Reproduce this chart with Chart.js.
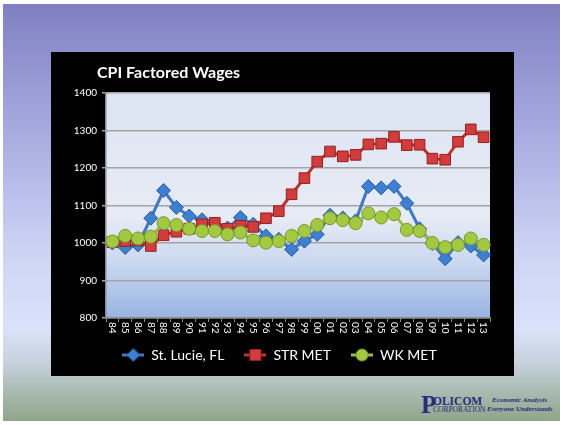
<!DOCTYPE html>
<html>
<head>
<meta charset="utf-8">
<script src="https://cdn.jsdelivr.net/npm/chart.js@4"></script>
<style>
  body { margin: 0; background: #fff; width: 563px; height: 425px; overflow: hidden; position: relative; }
  .slide {
    position: absolute; left: 3px; top: 4px; width: 557px; height: 417px;
    background: linear-gradient(to bottom, #8080c2 0%, #a6aadf 30%, #cdd5f5 60%, #d8e2f9 78%, #c6d2dc 86%, #a9bbb0 93%, #8fa58a 100%);
  }
  .box { position: absolute; left: 51px; top: 52px; width: 463px; height: 324px; background: #000; }
  .box canvas { display: block; }
  .logo { position: absolute; left: 421px; top: 392px; font-family: "Liberation Serif", serif; color: #2b2b7c; }
  .logo .p { position: absolute; left: 0; top: 0; font-size: 25px; font-weight: bold; line-height: 25px; }
  .logo .l1 { position: absolute; left: 12px; top: 3px; font-size: 11.5px; font-weight: bold; line-height: 12px; white-space: nowrap; }
  .logo .l2 { position: absolute; left: 12px; top: 13px; font-size: 7.5px; line-height: 9px; white-space: nowrap; }
  .logo .t1, .logo .t2 { position: absolute; font-style: italic; font-weight: bold; font-size: 7px; white-space: nowrap; }
  .logo .t1 { left: 71px; top: 4px; }
  .logo .t2 { left: 66px; top: 13px; }
</style>
</head>
<body>
<div class="slide"></div>
<div class="box"><canvas id="chart" width="463" height="324"></canvas></div>
<div class="logo">
  <span class="p">P</span><span class="l1">OLICOM</span><span class="l2">CORPORATION</span>
  <span class="t1">Economic Analysis</span><span class="t2">Everyone Understands</span>
</div>
<script>
const years = ['84','85','86','87','88','89','90','91','92','93','94','95','96','97','98','99',
               '00','01','02','03','04','05','06','07','08','09','10','11','12','13'];
const stLucie = [1000, 988, 995, 1066, 1140, 1095, 1072, 1062, 1050, 1040, 1068, 1050, 1019, 1010, 983,
                 1005, 1023, 1074, 1067, 1059, 1151, 1147, 1151, 1106, 1038, 999, 958, 1001, 992, 968];
const strMet = [1002, 1005, 1007, 992, 1021, 1030, 1038, 1050, 1054, 1038, 1046, 1043, 1066, 1085, 1130,
                1173, 1217, 1244, 1231, 1235, 1263, 1265, 1283, 1261, 1262, 1225, 1222, 1270, 1303, 1282];
const wkMet = [1004, 1019, 1012, 1017, 1053, 1048, 1038, 1032, 1032, 1023, 1028, 1007, 1001, 1005, 1019,
               1032, 1048, 1066, 1061, 1053, 1079, 1068, 1077, 1035, 1032, 1000, 989, 995, 1012, 995];
const yTicks = [800, 900, 1000, 1100, 1200, 1300, 1400];

// little line+marker pictures for the legend, like Excel does
function legendIcon(line, fill, edge, shape) {
  const c = document.createElement('canvas');
  c.width = 22; c.height = 14;
  const g = c.getContext('2d');
  g.strokeStyle = line; g.lineWidth = 3;
  g.beginPath(); g.moveTo(0, 7); g.lineTo(22, 7); g.stroke();
  g.fillStyle = fill; g.strokeStyle = edge; g.lineWidth = 1;
  g.beginPath();
  if (shape == 'diamond') {
    g.moveTo(11, 0.5); g.lineTo(17.5, 7); g.lineTo(11, 13.5); g.lineTo(4.5, 7); g.closePath();
  } else if (shape == 'square') {
    g.rect(5.5, 1.5, 11, 11);
  } else {
    g.arc(11, 7, 6, 0, Math.PI * 2);
  }
  g.fill(); g.stroke();
  return c;
}
const iconBlue = legendIcon('#3f78c6', '#3d7fd0', '#2a5ea6', 'diamond');
const iconRed = legendIcon('#c0332f', '#d23c3a', '#962020', 'square');
const iconGreen = legendIcon('#9bbb46', '#a2c940', '#769a2a', 'circle');

const plotBg = {
  id: 'plotBg',
  beforeDraw(chart) {
    const { ctx, chartArea: a } = chart;
    const grad = ctx.createLinearGradient(0, a.top, 0, a.bottom);
    grad.addColorStop(0, '#dce4f2');
    grad.addColorStop(0.55, '#e7ebf5');
    grad.addColorStop(0.75, '#cbd8f0');
    grad.addColorStop(1, '#97b3e3');
    ctx.save();
    ctx.fillStyle = grad;
    ctx.fillRect(a.left, a.top, a.right - a.left, a.bottom - a.top);
    ctx.restore();
  }
};

const extraText = {
  id: 'extraText',
  afterDraw(chart) {
    const { ctx, scales: { x } } = chart;
    ctx.save();
    ctx.fillStyle = '#fff';
    ctx.font = 'bold 16px Lato';
    ctx.textBaseline = 'middle';
    ctx.fillText('CPI Factored Wages', 46, 21);
    // year labels read top to bottom
    ctx.font = '10px Lato';
    ctx.textAlign = 'left';
    years.forEach((lab, i) => {
      ctx.save();
      ctx.translate(x.getPixelForValue(i), x.top + 4);
      ctx.rotate(Math.PI / 2);
      ctx.fillText(lab, 0, 0);
      ctx.restore();
    });
    ctx.restore();
  }
};

new Chart('chart', {
  type: 'line',
  data: {
    labels: years,
    datasets: [{
      label: 'St. Lucie, FL',
      data: stLucie,
      borderColor: '#3f78c6',
      backgroundColor: '#3d7fd0',
      pointBorderColor: '#2a5ea6',
      pointStyle: 'rectRot',
      pointRadius: 7,
      borderWidth: 3,
      pointBorderWidth: 1,
      order: 3
    }, {
      label: 'STR MET',
      data: strMet,
      borderColor: '#c0332f',
      backgroundColor: '#d23c3a',
      pointBorderColor: '#962020',
      pointStyle: 'rect',
      pointRadius: 7.5,
      borderWidth: 3,
      pointBorderWidth: 1,
      order: 2
    }, {
      label: 'WK MET',
      data: wkMet,
      borderColor: '#9bbb46',
      backgroundColor: '#a2c940',
      pointBorderColor: '#769a2a',
      pointStyle: 'circle',
      pointRadius: 6.5,
      borderWidth: 3,
      pointBorderWidth: 1,
      order: 1
    }]
  },
  options: {
    responsive: false,
    animation: false,
    layout: { padding: { left: 18, right: 24, top: 41, bottom: 4 } },
    plugins: {
      title: { display: false },
      tooltip: { enabled: false },
      legend: {
        position: 'bottom',
        labels: {
          color: '#fff',
          font: { family: 'Lato', size: 14 },
          usePointStyle: true,
          pointStyleWidth: 22,
          padding: 20,
          sort: (a, b) => a.datasetIndex - b.datasetIndex,
          generateLabels: (chart) => [iconBlue, iconRed, iconGreen].map((img, i) => ({
            text: chart.data.datasets[i].label,
            pointStyle: img,
            fontColor: '#fff',
            datasetIndex: i,
            lineWidth: 0
          }))
        }
      }
    },
    scales: {
      x: {
        offset: true,
        afterFit: (s) => { s.height = 10; },
        grid: { offset: true, drawOnChartArea: false, color: '#8c8c8c', tickLength: 4 },
        border: { color: '#8c8c8c', width: 1.5 },
        ticks: { display: false, autoSkip: false }
      },
      y: {
        min: 800,
        max: 1400,
        afterFit: (s) => { s.width = 37; },
        afterBuildTicks: (s) => { s.ticks = yTicks.map(v => ({ value: v })); },
        grid: { color: '#a3a3a3', lineWidth: 1.5, tickLength: 4 },
        border: { color: '#8c8c8c', width: 1.5 },
        ticks: { color: '#fff', padding: 5, font: { family: 'Lato', size: 10 }, callback: (v) => String(v) }
      }
    }
  },
  plugins: [plotBg, extraText]
});
</script>
</body>
</html>
